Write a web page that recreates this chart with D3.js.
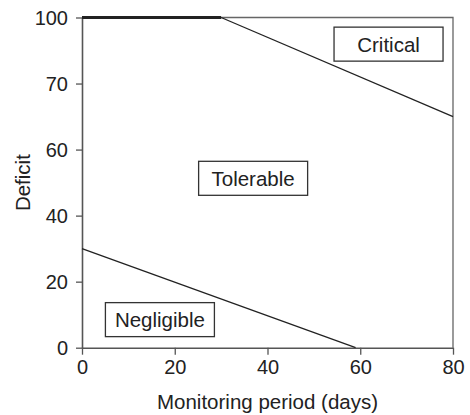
<!DOCTYPE html>
<html><head><meta charset="utf-8">
<script src="https://cdn.jsdelivr.net/npm/d3@7"></script>
<style>body{margin:0;background:#fff}svg{display:block}text{font-family:"Liberation Sans",Arial,sans-serif;fill:#222}</style>
</head><body><svg id="c" width="470" height="415"></svg>
<script>
const xTicks = [0, 20, 40, 60, 80];
const yTicks = [0, 20, 40, 60, 70, 100];
const upperX = [0, 30, 80];
const upperY = [100, 100, 65];
const lowerX = [0, 59];
const lowerY = [30, 0];
const zoneNames = ["Critical", "Tolerable", "Negligible"];
const zoneX = [66.1, 36.9, 16.8];
const zoneY = [87.9, 51.3, 8.5];
const xTitle = "Monitoring period (days)";
const yTitle = "Deficit";

const L = 82, R = 453, T = 17.5, B = 347.7;
const svg = d3.select("#c");
const x = d3.scaleLinear().domain([0, 80]).range([L, R]);
const step = (B - T) / (yTicks.length - 1);
const y = d3.scaleLinear().domain(yTicks).range(yTicks.map((d, i) => B - i * step));

// frame top/right
svg.append("path").attr("d", `M${L},${T}H${R}V${B}`).attr("fill", "none").attr("stroke", "#666").attr("stroke-width", 1.3);

const ax = svg.append("g").attr("transform", `translate(0,${B})`)
  .call(d3.axisBottom(x).tickValues(xTicks).tickSize(7).tickSizeOuter(0).tickPadding(5));
const ay = svg.append("g").attr("transform", `translate(${L},0)`)
  .call(d3.axisLeft(y).tickValues(yTicks).tickSize(6).tickSizeOuter(0).tickPadding(8));
[ax, ay].forEach(g => {
  g.select(".domain").attr("stroke", "#555").attr("stroke-width", 1.6);
  g.selectAll(".tick line").attr("stroke", "#555").attr("stroke-width", 1.3);
  g.selectAll(".tick text").attr("font-size", 20).attr("fill", "#222").style("font-family", '"Liberation Sans",Arial,sans-serif');
});
ay.selectAll(".tick text").attr("dy", "0.36em");

// boundary lines
for (let i = 0; i < upperX.length - 1; i++) {
  const flat = upperY[i] === upperY[i + 1];
  svg.append("line")
    .attr("x1", x(upperX[i])).attr("y1", y(upperY[i]))
    .attr("x2", x(upperX[i + 1])).attr("y2", y(upperY[i + 1]))
    .attr("stroke", "#222").attr("stroke-width", flat ? 3 : 1.3);
}
svg.append("path")
  .attr("d", d3.line().x(d => x(d[0])).y(d => y(d[1]))(lowerX.map((d, i) => [d, lowerY[i]])))
  .attr("fill", "none").attr("stroke", "#222").attr("stroke-width", 1.3);

// zone labels with boxes
zoneNames.forEach((n, i) => {
  const cx = x(zoneX[i]), cy = y(zoneY[i]);
  svg.append("rect").attr("x", cx - 54.5).attr("y", cy - 17).attr("width", 109).attr("height", 34)
    .attr("fill", "#fff").attr("stroke", "#333").attr("stroke-width", 1.3);
  svg.append("text").attr("x", cx).attr("y", cy).attr("dy", "0.36em").attr("text-anchor", "middle")
    .attr("font-size", 20.5).text(n);
});

svg.append("text").attr("x", (L + R) / 2).attr("y", 409).attr("text-anchor", "middle").attr("font-size", 20.5).text(xTitle);
svg.append("text").attr("transform", `translate(30,${(T + B) / 2}) rotate(-90)`).attr("text-anchor", "middle").attr("font-size", 20.5).text(yTitle);
</script></body></html>
